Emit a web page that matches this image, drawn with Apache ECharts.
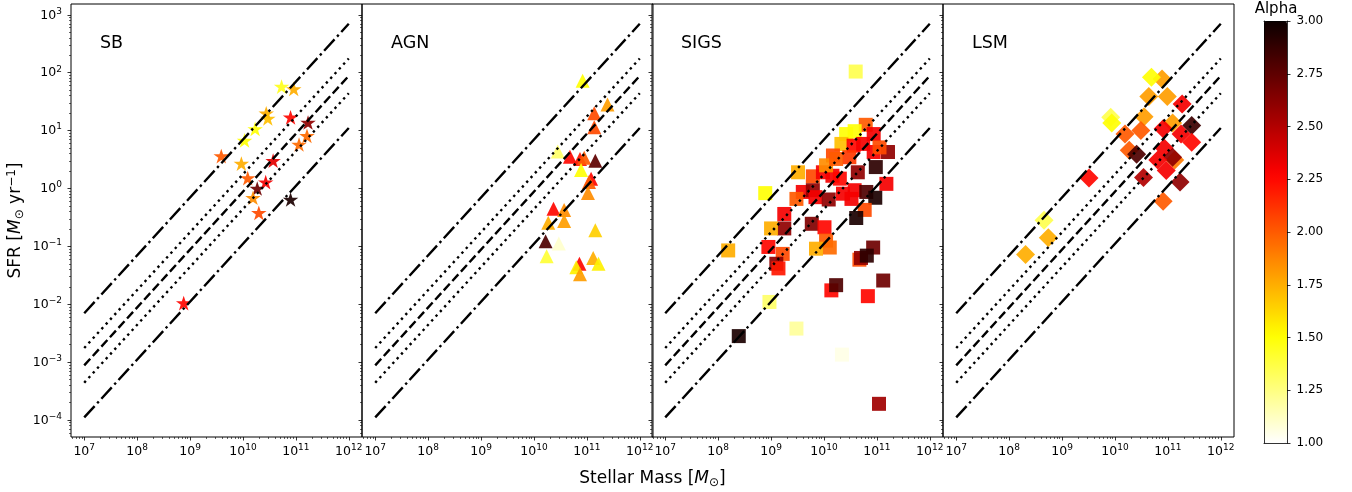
<!DOCTYPE html>
<html>
<head>
<meta charset="UTF-8">
<script src="https://cdn.jsdelivr.net/npm/echarts@6/dist/echarts.min.js"></script>
<style>
  html, body { margin: 0; padding: 0; background: #fff; }
  #main { width: 1352px; height: 492px; }
</style>
</head>
<body>
<div id="main"></div>
<script>
// values are log10
var panelNames = ['SB', 'AGN', 'SIGS', 'LSM'];

var sbLogM   = [10.73, 10.96, 10.44, 10.47, 10.90, 11.23, 10.23, 10.03, 11.21, 11.06, 9.59, 9.97, 10.57, 10.09, 10.43, 10.27, 10.19, 10.30, 10.90, 8.88];
var sbLogSFR = [1.76, 1.72, 1.30, 1.21, 1.23, 1.14, 1.03, 0.83, 0.91, 0.76, 0.56, 0.43, 0.48, 0.18, 0.11, 0.00, -0.16, -0.42, -0.19, -1.98];
var sbAlpha  = [1.45, 1.75, 1.75, 1.7, 2.25, 2.6, 1.5, 1.5, 1.95, 1.95, 2.0, 1.75, 2.35, 2.0, 2.3, 2.7, 1.85, 2.05, 2.95, 2.25];

var agnLogM   = [10.92, 11.39, 11.14, 11.14, 10.45, 10.68, 10.87, 10.95, 11.16, 10.89, 11.08, 11.04, 11.02, 10.37, 10.57, 10.27, 10.57, 11.16, 10.22, 10.47, 10.24, 11.12, 11.22, 10.86, 10.80, 10.87];
var agnLogSFR = [1.86, 1.45, 1.30, 1.06, 0.64, 0.55, 0.51, 0.53, 0.48, 0.32, 0.17, 0.11, -0.08, -0.35, -0.37, -0.59, -0.56, -0.72, -0.91, -0.95, -1.17, -1.20, -1.30, -1.30, -1.36, -1.48];
var agnAlpha  = [1.5, 1.8, 2.05, 2.05, 1.3, 2.25, 2.2, 2.0, 2.75, 1.5, 2.25, 2.0, 1.85, 2.25, 1.85, 1.75, 1.8, 1.65, 2.8, 1.1, 1.4, 1.75, 1.55, 2.25, 1.55, 1.8];

var sigsLogM   = [10.60, 10.79, 10.42, 10.58, 10.33, 10.94, 10.56, 10.74, 10.94, 11.21, 11.05, 10.17, 10.48, 10.98, 10.64, 9.51, 9.79, 9.98, 10.16, 10.30, 10.04, 10.23, 11.18, 9.60, 9.79, 9.48, 9.84, 10.09, 10.36, 10.58, 10.52, 10.80, 10.97, 10.77, 10.61, 8.89, 9.25, 9.25, 9.00, 9.77, 10.01, 10.04, 10.11, 9.85, 8.95, 9.22, 9.10, 9.14, 8.19, 10.93, 10.67, 10.70, 10.81, 11.12, 10.14, 10.23, 10.83, 8.97, 9.48, 8.39, 10.34, 11.04];
var sigsLogSFR = [2.02, 1.10, 0.94, 0.99, 0.77, 0.94, 0.74, 0.77, 0.63, 0.63, 0.71, 0.57, 0.54, 0.37, 0.28, 0.28, 0.21, 0.28, 0.22, 0.17, 0.40, 0.51, 0.08, -0.06, -0.03, -0.18, -0.15, -0.19, -0.09, -0.03, -0.18, -0.06, -0.16, -0.37, -0.51, -0.08, -0.44, -0.69, -0.69, -0.61, -0.67, -0.90, -1.02, -1.04, -1.01, -1.13, -1.30, -1.38, -1.07, -1.02, -1.23, -1.20, -1.16, -1.59, -1.76, -1.67, -1.86, -1.96, -2.42, -2.55, -2.87, -3.72];
var sigsAlpha  = [1.35, 2.0, 1.5, 1.5, 1.7, 2.3, 2.25, 2.3, 2.3, 2.6, 2.05, 2.05, 2.1, 2.9, 2.6, 1.75, 2.05, 2.3, 2.3, 2.25, 1.85, 2.0, 2.3, 2.3, 2.6, 2.0, 2.3, 2.6, 2.3, 2.3, 2.3, 2.8, 2.95, 2.05, 2.95, 1.5, 2.3, 2.6, 1.75, 2.65, 2.25, 2.0, 1.95, 1.75, 2.25, 2.05, 2.6, 2.2, 1.75, 2.7, 2.05, 2.6, 2.9, 2.7, 2.25, 2.8, 2.25, 1.3, 1.2, 2.95, 1.05, 2.55];

var lsmLogM   = [10.89, 10.69, 10.64, 10.99, 11.27, 9.92, 9.94, 10.55, 11.09, 11.45, 10.19, 10.49, 10.91, 11.25, 11.45, 10.27, 10.41, 10.93, 11.13, 11.09, 10.81, 10.97, 9.51, 10.54, 11.23, 10.91, 8.66, 8.74, 8.31];
var lsmLogSFR = [1.89, 1.92, 1.59, 1.59, 1.46, 1.23, 1.13, 1.24, 1.13, 1.09, 0.94, 1.00, 1.03, 0.94, 0.80, 0.66, 0.59, 0.70, 0.49, 0.54, 0.49, 0.31, 0.18, 0.19, 0.11, -0.22, -0.55, -0.85, -1.14];
var lsmAlpha  = [1.8, 1.5, 1.8, 1.8, 2.3, 1.35, 1.5, 1.8, 1.8, 2.85, 2.0, 2.0, 2.3, 2.3, 2.25, 2.0, 2.8, 2.3, 1.9, 2.6, 2.3, 2.3, 2.25, 2.5, 2.6, 2.0, 1.35, 1.75, 1.75];

// reference sSFR lines: offsets (dex) from the main sequence
var msLogSSFR = -10.055;
var lineOffsets = [0.9, 0.3, 0, -0.3, -0.9];
var lineMassRange = [7, 12];

var majorX = [7, 8, 9, 10, 11, 12];
var majorY = [-4, -3, -2, -1, 0, 1, 2, 3];
var cbarTicks = [1, 1.25, 1.5, 1.75, 2, 2.25, 2.5, 2.75, 3];

var xLim = [6.75, 12.25];
var yLim = [-4.293, 3.187];

function minorTicks(lim) {
  var out = [];
  for (var n = Math.floor(lim[0]); n <= Math.ceil(lim[1]); n++) {
    for (var k = 2; k <= 9; k++) {
      var v = n + Math.log10(k);
      if (v > lim[0] && v < lim[1]) out.push(v);
    }
  }
  return out;
}

// matplotlib hot_r
function hotR(t) {
  var x = 1 - t;
  var c = function (v) { return Math.max(0, Math.min(1, v)); };
  var r = 0.0416 + 0.9584 * c(x / 0.365079);
  var g = c((x - 0.365079) / 0.380953);
  var b = c((x - 0.746032) / 0.253968);
  return 'rgb(' + Math.round(r * 255) + ',' + Math.round(g * 255) + ',' + Math.round(b * 255) + ')';
}
var cmap = [];
for (var i = 0; i <= 40; i++) cmap.push(hotR(i / 40));

// 5-point star
var starPts = [];
for (var j = 0; j < 10; j++) {
  var ang = -Math.PI / 2 + j * Math.PI / 5;
  var rad = j % 2 === 0 ? 100 : 38.2;
  starPts.push((rad * Math.cos(ang)).toFixed(2) + ' ' + (rad * Math.sin(ang)).toFixed(2));
}
var starPath = 'path://M' + starPts.join(' L') + ' Z';

var FONT = 'DejaVu Sans';
var lefts = [71, 362, 652, 943];
var gw = 291, gtop = 4, gh = 433;

function pow10(v) {
  var e = Math.round(v);
  return '{b|10}{s|' + (e < 0 ? '\u2212' + (-e) : e) + '}';
}
var powRich = {
  b: { fontSize: 12.5, fontFamily: FONT, color: '#000', verticalAlign: 'bottom', lineHeight: 14 },
  s: { fontSize: 9, fontFamily: FONT, color: '#000', verticalAlign: 'bottom', lineHeight: 10, padding: [0, 0, 6, 0] }
};
var noLine = { show: false, onZero: false };

var grids = [], xAxes = [], yAxes = [], series = [], titles = [];
var sets = [
  { m: sbLogM, s: sbLogSFR, a: sbAlpha, sym: starPath, size: [15.5, 14.7] },
  { m: agnLogM, s: agnLogSFR, a: agnAlpha, sym: 'triangle', size: 14 },
  { m: sigsLogM, s: sigsLogSFR, a: sigsAlpha, sym: 'rect', size: 14 },
  { m: lsmLogM, s: lsmLogSFR, a: lsmAlpha, sym: 'diamond', size: 19 }
];

for (var p = 0; p < 4; p++) {
  grids.push({ left: lefts[p], top: gtop, width: gw, height: gh, show: true,
    borderColor: '#000', borderWidth: 1, backgroundColor: 'transparent', outerBoundsMode: 'none' });
  xAxes.push({
    type: 'value', gridIndex: p, position: 'bottom', offset: 0, min: xLim[0], max: xLim[1],
    axisLine: noLine, splitLine: { show: false },
    axisTick: { show: true, length: 3.5, lineStyle: { color: '#000', width: 0.8 }, customValues: majorX },
    axisLabel: { show: true, margin: 7, customValues: majorX, formatter: pow10, rich: powRich }
  });
  xAxes.push({
    type: 'value', gridIndex: p, position: 'bottom', offset: 0, min: xLim[0], max: xLim[1],
    axisLine: noLine, splitLine: { show: false }, axisLabel: { show: false },
    axisTick: { show: true, length: 2, lineStyle: { color: '#000', width: 0.6 }, customValues: minorTicks(xLim) }
  });
  var ymain = {
    type: 'value', gridIndex: p, position: 'left', offset: 0, min: yLim[0], max: yLim[1],
    axisLine: noLine, splitLine: { show: false },
    axisTick: { show: true, length: 3.5, lineStyle: { color: '#000', width: 0.8 }, customValues: majorY },
    axisLabel: { show: p === 0, margin: 9, customValues: majorY, formatter: pow10, rich: powRich }
  };
  if (p === 0) {
    ymain.name = '{n|SFR [}{i|M}{sub|\u2299}{n| yr}{sup|\u22121}{n|]}';
    ymain.nameLocation = 'middle';
    ymain.nameRotate = 90;
    ymain.nameGap = 45;
    ymain.nameTextStyle = { rich: {
      n: { fontSize: 17, fontFamily: FONT, color: '#000' },
      i: { fontSize: 17, fontFamily: FONT, fontStyle: 'italic', color: '#000' },
      sub: { fontSize: 12, fontFamily: FONT, color: '#000', padding: [8, 0, 0, 0] },
      sup: { fontSize: 12, fontFamily: FONT, color: '#000', padding: [0, 0, 8, 0] }
    } };
  }
  yAxes.push(ymain);
  yAxes.push({
    type: 'value', gridIndex: p, position: 'left', offset: 0, min: yLim[0], max: yLim[1],
    axisLine: noLine, splitLine: { show: false }, axisLabel: { show: false },
    axisTick: { show: true, length: 2, lineStyle: { color: '#000', width: 0.6 }, customValues: minorTicks(yLim) }
  });

  var set = sets[p];
  series.push({
    type: 'scatter', xAxisIndex: 2 * p, yAxisIndex: 2 * p, z: 2,
    symbol: set.sym, symbolSize: set.size,
    itemStyle: { opacity: 0.92 },
    data: set.m.map(function (m, k) { return [m, set.s[k], set.a[k]]; })
  });

  lineOffsets.forEach(function (off, k) {
    var dash = (off === 0) ? [8.9, 3.8] : (Math.abs(off) < 0.5 ? [2.4, 4.0] : [15.4, 3.8, 2.4, 3.8]);
    series.push({
      type: 'line', xAxisIndex: 2 * p, yAxisIndex: 2 * p, z: 3, silent: true,
      showSymbol: false, symbol: 'none',
      lineStyle: { color: '#000', width: 2.4, type: dash, cap: 'butt' },
      data: lineMassRange.map(function (m) { return [m, m + msLogSSFR + off]; })
    });
  });

  titles.push({ text: panelNames[p], left: lefts[p] + 29, top: 33, padding: 0,
    textStyle: { fontSize: 17.5, fontWeight: 'normal', fontFamily: FONT, color: '#000', lineHeight: 20 } });
}

// full-width grid only for the shared x label
grids.push({ left: 71, top: gtop, width: 1163, height: gh, show: false, outerBoundsMode: 'none' });
xAxes.push({
  type: 'value', gridIndex: 4, min: 0, max: 1, position: 'bottom',
  axisLine: noLine, axisTick: { show: false }, axisLabel: { show: false }, splitLine: { show: false },
  name: '{n|Stellar Mass [}{i|M}{sub|\u2299}{n|]}', nameLocation: 'middle', nameGap: 32,
  nameTextStyle: { rich: {
    n: { fontSize: 17, fontFamily: FONT, color: '#000' },
    i: { fontSize: 17, fontFamily: FONT, fontStyle: 'italic', color: '#000' },
    sub: { fontSize: 12, fontFamily: FONT, color: '#000', padding: [8, 0, 0, 0] }
  } }
});
yAxes.push({ type: 'value', gridIndex: 4, show: false });

// colour bar frame + ticks
grids.push({ left: 1264, top: 21, width: 23, height: 422, show: false, outerBoundsMode: 'none' });
var frame = { show: true, onZero: false, lineStyle: { color: '#000', width: 0.8 } };
xAxes.push({ type: 'value', gridIndex: 5, position: 'bottom', min: 0, max: 1, z: 10, axisLine: frame,
  axisTick: { show: false }, axisLabel: { show: false }, splitLine: { show: false } });
xAxes.push({ type: 'value', gridIndex: 5, position: 'top', min: 0, max: 1, z: 10, axisLine: frame,
  axisTick: { show: false }, axisLabel: { show: false }, splitLine: { show: false } });
yAxes.push({ type: 'value', gridIndex: 5, position: 'left', min: 1, max: 3, z: 10, axisLine: frame,
  axisTick: { show: false }, axisLabel: { show: false }, splitLine: { show: false } });
yAxes.push({ type: 'value', gridIndex: 5, position: 'right', min: 1, max: 3, interval: 0.25, z: 10, axisLine: frame,
  splitLine: { show: false },
  axisTick: { show: true, length: 3.5, lineStyle: { color: '#000', width: 0.8 }, customValues: cbarTicks },
  axisLabel: { show: true, margin: 9.5, fontSize: 12, fontFamily: FONT, color: '#000', customValues: cbarTicks,
    formatter: function (v) { return v.toFixed(2); } } });

titles.push({ text: 'Alpha', left: 1276, textAlign: 'center', top: 1, padding: 0,
  textStyle: { fontSize: 15, fontWeight: 'normal', fontFamily: FONT, color: '#000', lineHeight: 17 } });

var chart = echarts.init(document.getElementById('main'), null, { renderer: 'canvas' });
chart.setOption({
  animation: false,
  backgroundColor: '#fff',
  textStyle: { fontFamily: FONT },
  title: titles,
  grid: grids,
  xAxis: xAxes,
  yAxis: yAxes,
  visualMap: {
    type: 'continuous', min: 1, max: 3, dimension: 2, seriesIndex: [0, 6, 12, 18],
    inRange: { color: cmap },
    show: true, calculable: false, hoverLink: false,
    left: 1264, top: 21, itemWidth: 23, itemHeight: 422, padding: 0, text: null
  },
  series: series
});
</script>
</body>
</html>
